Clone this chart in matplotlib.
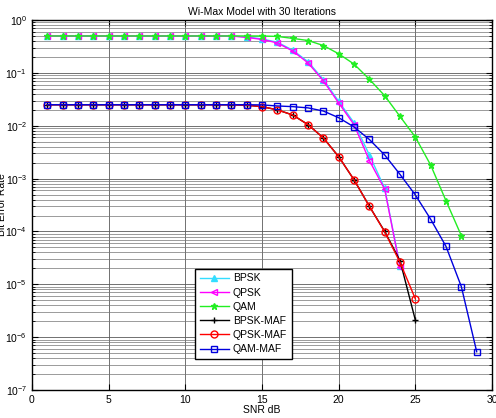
import matplotlib
matplotlib.use('Agg')
import matplotlib.pyplot as plt
import numpy as np
from matplotlib.ticker import LogLocator, NullFormatter

plt.rcParams['font.family'] = ['Liberation Sans', 'DejaVu Sans']
plt.rcParams['mathtext.default'] = 'regular'

## BER curves
bpsk = [0.5] * 13 + [0.48, 0.44, 0.38, 0.27, 0.163, 0.075, 0.029, 0.0114,
                     0.0028, 6.6e-4, 2.2e-5]
qpsk = [0.5] * 13 + [0.47, 0.43, 0.37, 0.26, 0.155, 0.071, 0.027, 0.0105,
                     0.0022, 6.3e-4, 2.1e-5]
qam = [0.5] * 15 + [0.49, 0.45, 0.41, 0.33, 0.23, 0.147, 0.076, 0.037,
                    0.015, 0.0061, 0.0018, 3.8e-4, 8.3e-5]
bpsk_maf = [0.025] * 13 + [0.0245, 0.023, 0.020, 0.016, 0.0105, 0.0059, 0.0026,
                           9.5e-4, 3.0e-4, 1.0e-4, 2.8e-5, 2.1e-6]
qpsk_maf = [0.025] * 13 + [0.0245, 0.023, 0.020, 0.016, 0.0105, 0.0059, 0.0026,
                           9.5e-4, 3.0e-4, 9.8e-5, 2.6e-5, 5.3e-6]
qam_maf = [0.025] * 14 + [0.0248, 0.0237, 0.023, 0.0218, 0.019, 0.0142, 0.0095,
                          0.0055, 0.0028, 0.0012, 4.9e-4, 1.7e-4, 5.2e-5,
                          9e-6, 5.3e-7]

series = [
    ("BPSK", bpsk, dict(color='#33ddff', marker='^', mfc='#33ddff')),
    ("QPSK", qpsk, dict(color='#ff00ff', marker='<', mfc='none')),
    ("QAM", qam, dict(color='#22ee22', marker='*', mfc='#22ee22')),
    ("BPSK-MAF", bpsk_maf, dict(color='black', marker='+', mfc='none')),
    ("QPSK-MAF", qpsk_maf, dict(color='red', marker='o', mfc='none')),
    ("QAM-MAF", qam_maf, dict(color='#0000dd', marker='s', mfc='none')),
]

fig = plt.figure(figsize=(4.96, 4.18), dpi=100)
ax = fig.add_axes([0.0645, 0.067, 0.9275, 0.885])

for name, vals, st in series:
    xs = np.arange(1, len(vals) + 1)
    ax.semilogy(xs, vals, label=name, lw=1.0, ms=5, mew=1.0, **st)

ax.set_xlim(0, 30)
ax.set_ylim(1e-7, 1)
ax.set_xticks(np.arange(0, 31, 5))
ax.yaxis.set_major_locator(LogLocator(base=10, numticks=10))
ax.yaxis.set_minor_locator(LogLocator(base=10, subs=np.arange(2, 10), numticks=20))
ax.yaxis.set_minor_formatter(NullFormatter())

ax.grid(True, which='major', color='0.35', lw=0.6)
ax.grid(True, which='minor', axis='y', color='0.45', lw=0.5)
ax.tick_params(which='both', direction='in', top=True, right=True, labelsize=7.5)
ax.tick_params(which='major', length=4)
ax.tick_params(which='minor', length=2)
for sp in ax.spines.values():
    sp.set_linewidth(1.0)

ax.set_title("Wi-Max Model with 30 Iterations", fontsize=7.5, pad=4)
ax.set_xlabel("SNR dB", fontsize=7.5, labelpad=0)
ax.set_ylabel("Bit Error Rate", fontsize=7.5)
ax.yaxis.set_label_coords(-0.055, 0.5)

leg = ax.legend(loc='lower left', bbox_to_anchor=(0.354, 0.084), fontsize=7.5,
                fancybox=False, framealpha=1, edgecolor='black',
                borderaxespad=0, handlelength=2.8, handletextpad=0.4,
                borderpad=0.45, labelspacing=0.4)
leg.get_frame().set_linewidth(1.0)

plt.savefig('out.png', dpi=100)
